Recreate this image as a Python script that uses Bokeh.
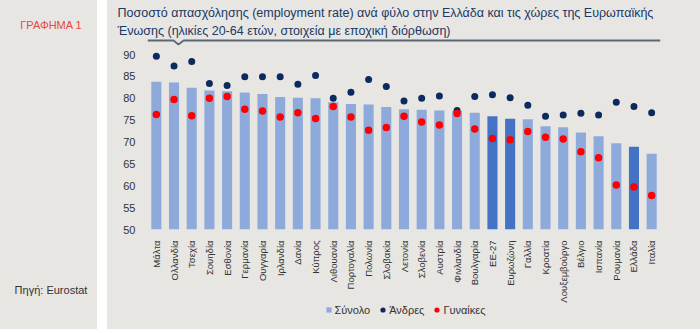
import math
from bokeh.plotting import figure
from bokeh.models import (ColumnDataSource, FactorRange, Range1d, FixedTicker, Title,
                          Legend, LegendItem, Div)
from bokeh.layouts import row, column
from bokeh.embed import file_html
from bokeh.resources import INLINE

# ---------------- data ----------------
countries = ["Μάλτα", "Ολλανδία", "Τσεχία", "Σουηδία", "Εσθονία", "Γερμανία", "Ουγγαρία",
             "Ιρλανδία", "Δανία", "Κύπρος", "Λιθουανία", "Πορτογαλία", "Πολωνία", "Σλοβακία",
             "Λετονία", "Σλοβενία", "Αυστρία", "Φινλανδία", "Βουλγαρία", "ΕΕ-27", "Ευρωζώνη",
             "Γαλλία", "Κροατία", "Λουξεμβούργο", "Βέλγιο", "Ισπανία", "Ρουμανία", "Ελλάδα",
             "Ιταλία"]
total = [83.8, 83.6, 82.4, 81.8, 81.6, 81.3, 81.0, 80.3, 80.1, 80.0, 79.1, 78.7, 78.6, 78.0,
         77.5, 77.4, 77.2, 77.1, 76.7, 75.9, 75.3, 75.2, 73.6, 73.4, 72.2, 71.3, 69.7, 68.9,
         67.3]
men = [89.6, 87.4, 88.4, 83.4, 82.9, 84.9, 84.9, 84.9, 83.2, 85.2, 80.0, 81.4, 84.3, 82.7,
       79.4, 80.0, 80.5, 77.2, 80.4, 80.8, 80.1, 78.4, 75.9, 76.2, 76.6, 76.2, 79.1, 78.1,
       76.7]
women = [76.3, 79.7, 76.0, 80.0, 80.4, 77.5, 77.1, 75.7, 76.7, 75.4, 78.1, 75.7, 72.7, 73.3,
         75.9, 74.6, 73.9, 76.5, 73.0, 70.8, 70.5, 72.4, 71.1, 70.7, 67.8, 66.4, 60.2, 59.7,
         57.8]
highlight = ["ΕΕ-27", "Ευρωζώνη", "Ελλάδα"]
y_ticks = [50, 55, 60, 65, 70, 75, 80, 85, 90]
series_names = ["Σύνολο", "Άνδρες", "Γυναίκες"]

title_1 = "Ποσοστό απασχόλησης (employment rate) ανά φύλο στην Ελλάδα και τις χώρες της Ευρωπαϊκής"
title_2 = "Ένωσης (ηλικίες 20-64 ετών, στοιχεία με εποχική διόρθωση)"
label_chart = "ΓΡΑΦΗΜΑ 1"
label_source = "Πηγή: Eurostat"

# ---------------- style ----------------
BG = "#e7e6e3"
LIGHT = "#8eaadb"
DARK = "#4472c4"
NAVY = "#0c2a5e"
RED = "#ff0000"
TXT = "#333333"
FONT = "Liberation Sans"

light_idx = [i for i, c in enumerate(countries) if c not in highlight]
dark_idx = [i for i, c in enumerate(countries) if c in highlight]
src_light = ColumnDataSource(dict(x=[countries[i] for i in light_idx],
                                  top=[total[i] for i in light_idx]))
src_dark = ColumnDataSource(dict(x=[countries[i] for i in dark_idx],
                                 top=[total[i] for i in dark_idx]))
src_pts = ColumnDataSource(dict(x=countries, men=men, women=women))

# ---------------- main panel ----------------
p = figure(width=593, height=309, x_range=FactorRange(factors=countries),
           y_range=Range1d(50, 93.66), output_backend="svg", toolbar_location=None,
           min_border_left=40, min_border_right=40, min_border_top=38,
           min_border_bottom=80)
p.background_fill_color = BG
p.border_fill_color = BG
p.outline_line_color = None
p.grid.visible = False

p.vbar(x="x", top="top", bottom=50, width=0.57, source=src_light,
       fill_color=LIGHT, line_color=None)
p.vbar(x="x", top="top", bottom=50, width=0.57, source=src_dark,
       fill_color=DARK, line_color=None)
p.scatter(x="x", y="men", source=src_pts, size=7, fill_color=NAVY, line_color=None)
p.scatter(x="x", y="women", source=src_pts, size=7.5, fill_color=RED, line_color=None)

# separator line under the title (with small notch)
p.line(x=[0, 1.47, 1.75, 2.04, 29], y=[93.2, 93.2, 92.3, 93.2, 93.2],
       line_color="#5b6775", line_width=1.8)

for ax in (p.xaxis[0], p.yaxis[0]):
    ax.axis_line_color = None
    ax.major_tick_line_color = None
    ax.minor_tick_line_color = None
    ax.major_label_text_font = FONT
    ax.major_label_text_color = TXT
p.yaxis.major_label_text_font_size = "11px"
p.xaxis.major_label_text_font_size = "9.5px"
p.yaxis.ticker = FixedTicker(ticks=y_ticks)
p.yaxis.major_label_standoff = 6
p.xaxis.major_label_orientation = math.pi / 2
p.xaxis.major_label_standoff = 5

p.add_layout(Title(text=title_2, align="left", offset=-30, standoff=2,
                   text_font=FONT, text_font_size="12.5px", text_color="#203864",
                   text_font_style="normal"), "above")
p.add_layout(Title(text=title_1, align="left", offset=-30, standoff=2,
                   text_font=FONT, text_font_size="12.5px", text_color="#203864",
                   text_font_style="normal"), "above")

# ---------------- legend strip (transparent, slightly overlapping) ----------------
lg = figure(width=593, height=26, x_range=Range1d(0, 1), y_range=Range1d(0, 1),
            x_axis_location=None, y_axis_location=None,
            output_backend="svg", toolbar_location=None, margin=(-6, 0, 0, 0),
            min_border_left=0, min_border_right=0, min_border_top=0, min_border_bottom=0)
lg.background_fill_alpha = 0
lg.border_fill_alpha = 0
lg.outline_line_color = None
lg.grid.visible = False
offscreen = ColumnDataSource(dict(x=[-5], y=[-5]))
k_bar = lg.scatter(x="x", y="y", source=offscreen, marker="square", size=7,
                   fill_color=LIGHT, line_color=None)
k_men = lg.scatter(x="x", y="y", source=offscreen, size=7, fill_color=NAVY, line_color=None)
k_women = lg.scatter(x="x", y="y", source=offscreen, size=7.5, fill_color=RED,
                     line_color=None)
legend = Legend(items=[LegendItem(label=series_names[0], renderers=[k_bar]),
                       LegendItem(label=series_names[1], renderers=[k_men]),
                       LegendItem(label=series_names[2], renderers=[k_women])],
                orientation="horizontal", location="top_center",
                background_fill_alpha=0, border_line_color=None,
                label_text_font=FONT, label_text_font_size="11px", label_text_color=TXT,
                glyph_width=13, glyph_height=13, label_standoff=0, spacing=6,
                padding=0, margin=0)
lg.add_layout(legend)

# ---------------- left panel ----------------
left_html = (
    f'<div style="position:relative;width:97px;height:329px;background:{BG};'
    f'font-family:\'{FONT}\';font-size:11px;">'
    f'<div style="position:absolute;top:18px;left:0;width:102px;text-align:center;'
    f'color:#e8473c;">{label_chart}</div>'
    f'<div style="position:absolute;top:283px;left:0;width:102px;text-align:center;'
    f'color:{TXT};">{label_source}</div>'
    f'</div>'
)
left = Div(text=left_html, width=97, height=329, margin=0,
           styles={"background-color": BG})

right = column(p, lg, spacing=0, styles={"background-color": BG})
layout = row(left, right, spacing=10)
open("out.html", "w").write(file_html(layout, INLINE))
